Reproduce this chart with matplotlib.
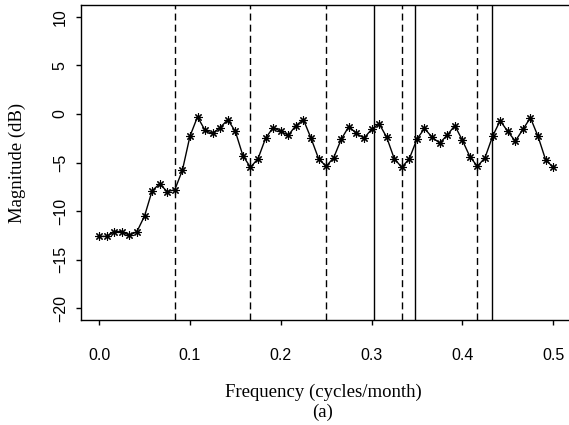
import numpy as np
import matplotlib
matplotlib.use("Agg")
import matplotlib.pyplot as plt

# spectrum magnitude (dB) at frequencies k/120, k = 0..60
freq = np.arange(61) / 120.0
mag_db = [
    -12.6, -12.6, -12.1, -12.1, -12.5, -12.1, -10.5, -7.9, -7.2, -8.0,
    -7.8, -5.8, -2.3, -0.3, -1.7, -2.0, -1.4, -0.6, -1.8, -4.3,
    -5.5, -4.6, -2.5, -1.4, -1.8, -2.2, -1.2, -0.6, -2.5, -4.6,
    -5.4, -4.5, -2.6, -1.3, -2.0, -2.5, -1.6, -1.0, -2.4, -4.6,
    -5.5, -4.6, -2.6, -1.5, -2.4, -3.0, -2.2, -1.2, -2.7, -4.4,
    -5.4, -4.5, -2.3, -0.7, -1.8, -2.8, -1.6, -0.4, -2.3, -4.7,
    -5.5,
]

# reference lines
dashed_freqs = [1/12, 2/12, 3/12, 4/12, 5/12]
solid_freqs = [0.303, 0.348, 0.433]

xticks = [0.0, 0.1, 0.2, 0.3, 0.4, 0.5]
yticks = [-20, -15, -10, -5, 0, 5, 10]

fig = plt.figure(figsize=(5.69, 4.25), dpi=100)
ax = fig.add_axes([81/569, 105/425, 1.004 - 81/569, 315/425])

for f in dashed_freqs:
    ax.axvline(f, color='black', lw=1.0, ls=(0, (5, 3)))
for f in solid_freqs:
    ax.axvline(f, color='black', lw=1.0)

ax.plot(freq, mag_db, color='black', lw=1.0,
        marker=(8, 2, 0), markersize=6, markeredgewidth=0.8)

ax.set_xlim(-0.02, 0.52)
ax.set_ylim(-21.2, 11.2)
ax.set_xticks(xticks)
ax.set_xticklabels([f"{t:.1f}" for t in xticks], family='Liberation Sans', fontsize=11.5)
ax.set_yticks(yticks)
ax.set_yticklabels([str(t).replace('-', '\u2212') for t in yticks],
                   family='Liberation Sans', fontsize=11.5, rotation=90, va='center')
ax.tick_params(direction='out', length=3.5, width=1.0, color='black')
ax.tick_params(axis='x', pad=17)
ax.tick_params(axis='y', pad=6)

for s in ax.spines.values():
    s.set_linewidth(1.0)
ax.spines['right'].set_visible(False)

ax.set_ylabel('Magnitude (dB)', family='Liberation Serif', fontsize=13.5, va='center')
ax.yaxis.set_label_coords((18 - 81) / 488, 0.5)
fig.text(323/569, (425 - 392) / 425, 'Frequency (cycles/month)',
         family='Liberation Serif', fontsize=13.5, ha='center', va='center')
fig.text(323/569, (425 - 412) / 425, '(a)',
         family='Liberation Serif', fontsize=13.5, ha='center', va='center')

fig.savefig('out.png', dpi=100)
